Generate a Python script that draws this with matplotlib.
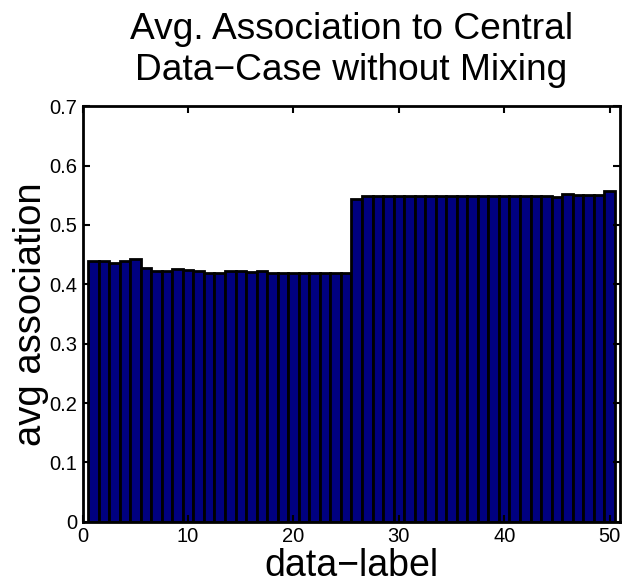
import numpy as np
from matplotlib import pyplot as plt

plt.rcParams['font.family'] = ['Liberation Sans', 'DejaVu Sans']

# data-label 1..50 and the average association
labels = np.arange(1, 51)
assoc = [0.440, 0.440, 0.436, 0.439, 0.442, 0.427, 0.422, 0.422, 0.426, 0.425,
         0.423, 0.419, 0.419, 0.423, 0.423, 0.420, 0.423, 0.419, 0.419, 0.419,
         0.419, 0.419, 0.419, 0.419, 0.419, 0.544, 0.548, 0.548, 0.548, 0.548,
         0.548, 0.548, 0.548, 0.548, 0.548, 0.548, 0.548, 0.548, 0.548, 0.548,
         0.548, 0.548, 0.548, 0.548, 0.547, 0.553, 0.550, 0.550, 0.550, 0.557]
xticks = [0, 10, 20, 30, 40, 50]
yticks = [0, 0.1, 0.2, 0.3, 0.4, 0.5, 0.6, 0.7]

fig = plt.figure(figsize=(6.27, 5.87), dpi=100)
ax = fig.add_axes([0.132, 0.111, 0.857, 0.708])

ax.bar(labels, assoc, width=1.0, color='#000080', edgecolor='black', linewidth=2.0)

ax.set_xlim(0, 51)
ax.set_ylim(0, 0.7)
ax.set_xticks(xticks)
ax.set_yticks(yticks)
ax.set_yticklabels(['0', '0.1', '0.2', '0.3', '0.4', '0.5', '0.6', '0.7'])
ax.tick_params(direction='in', length=5, width=1.5, labelsize=14.5, top=True, right=True)
ax.tick_params(axis='x', pad=4)
ax.tick_params(axis='y', pad=4)
for s in ax.spines.values():
    s.set_linewidth(2)

ax.set_title('Avg. Association to Central\nData\u2212Case without Mixing', fontsize=26.7, pad=19)
ax.set_xlabel('data\u2212label', fontsize=27, labelpad=1)
ax.set_ylabel('avg association', fontsize=27.5, labelpad=0)

plt.savefig('out.png', dpi=100)
